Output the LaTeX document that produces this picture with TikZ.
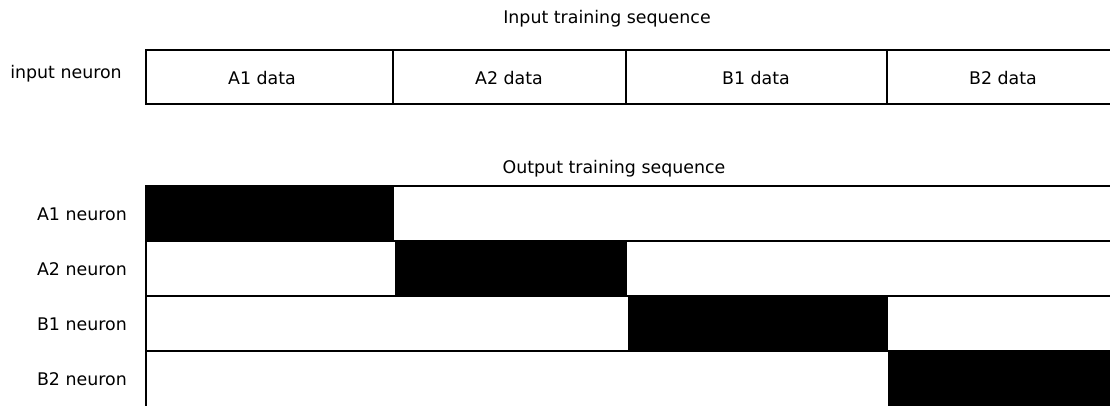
\documentclass[tikz,border=0pt]{standalone}
\usepackage{fontspec}
\setmainfont{DejaVu Sans}
\begin{document}
\begin{tikzpicture}[x=1pt,y=-1pt,
  lbl/.style={font=\fontsize{17.4}{21}\selectfont, inner sep=0pt},
  cellline/.style={line width=2.6pt},
  on/.style={fill=black, draw=none}]
\useasboundingbox (0,0) rectangle (1110,405);
\fill[white] (0,0) rectangle (1110,405);
% titles
\node[lbl] (tin) at (607,18.5) {Input training sequence};
\node[lbl] (tout) at (614,168.5) {Output training sequence};
% input row
\node[lbl] (lin) at (66,73.5) {input neuron};
\draw[cellline] (1115,50) -- (146,50) -- (146,104) -- (1115,104);
\draw[cellline] (393,50) -- (393,104);
\draw[cellline] (626,50) -- (626,104);
\draw[cellline] (887,50) -- (887,104);
\node[lbl] (da1) at (262,78) {A1 data};
\node[lbl] (da2) at (509,78) {A2 data};
\node[lbl] (db1) at (756,78) {B1 data};
\node[lbl] (db2) at (1003,78) {B2 data};
% output rows
\node[lbl, anchor=east] (la1) at (127,214) {A1 neuron};
\node[lbl, anchor=east] (la2) at (127,269) {A2 neuron};
\node[lbl, anchor=east] (lb1) at (127,324) {B1 neuron};
\node[lbl, anchor=east] (lb2) at (127,379) {B2 neuron};
\draw[cellline] (146,186) -- (1115,186);
\draw[cellline] (146,241) -- (1115,241);
\draw[cellline] (146,296) -- (1115,296);
\draw[cellline] (146,351) -- (1115,351);
\draw[cellline] (146,185) -- (146,410);
\fill[on] (145,186) rectangle (394,241);
\fill[on] (395,241) rectangle (627,296);
\fill[on] (628,296) rectangle (888,351);
\fill[on] (888,351) rectangle (1115,410);
\end{tikzpicture}
\end{document}
